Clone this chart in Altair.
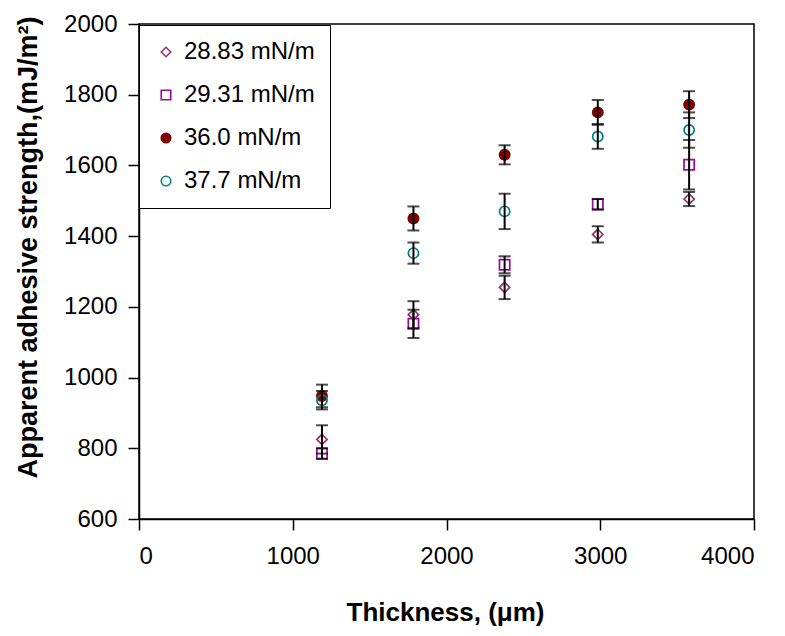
import altair as alt
import pandas as pd

series = ["28.83 mN/m", "29.31 mN/m", "36.0 mN/m", "37.7 mN/m"]
thickness = [1190, 1785, 2378, 2984, 3578]
strength_2883 = [825, 1178, 1255, 1405, 1505]
strength_2931 = [785, 1152, 1319, 1490, 1602]
strength_360 = [948, 1450, 1630, 1750, 1772]
strength_377 = [936, 1352, 1470, 1682, 1700]
err_2883 = [40, 38, 33, 23, 20]
err_2931 = [15, 40, 24, 15, 70]
err_360 = [32, 34, 27, 35, 38]
err_377 = [26, 30, 50, 35, 50]

colors = ["#993366", "#9a0a9a", "#800000", "#008080"]
fills = ["transparent", "transparent", "#800000", "transparent"]
shapes = ["diamond", "square", "circle", "circle"]

rows = []
for s, ys, es in zip(series,
                     [strength_2883, strength_2931, strength_360, strength_377],
                     [err_2883, err_2931, err_360, err_377]):
    for x, y, e in zip(thickness, ys, es):
        rows.append({"series": s, "x": x, "y": y, "lo": y - e, "hi": y + e})
df = pd.DataFrame(rows)

font = "Liberation Sans"
xscale = alt.Scale(domain=[0, 4000], nice=False)
yscale = alt.Scale(domain=[600, 2000], nice=False)

xax = alt.X("x:Q", scale=xscale, axis=alt.Axis(
    title="Thickness, (μm)", values=[0, 1000, 2000, 3000, 4000], format="d",
    labelPadding=14, titleFontSize=26,
    titleX=306, titleY=101, titleBaseline="alphabetic"))
yax = alt.Y("y:Q", scale=yscale, axis=alt.Axis(
    title="Apparent adhesive strength,(mJ/m²)", format="d",
    values=[600, 800, 1000, 1200, 1400, 1600, 1800, 2000],
    titleFontSize=27,
    titleX=-103, titleY=223, titleAngle=-90, titleBaseline="alphabetic",
    titleAlign="center"))

legend = alt.Legend(title=None, orient="none", legendX=0, legendY=1,
                    strokeColor="black", fillColor="white", padding=15,
                    rowPadding=19, labelFontSize=24, labelFont=font,
                    labelColor="black", symbolSize=90, symbolStrokeWidth=1.6,
                    labelOffset=6)

points = alt.Chart(df).mark_point(size=105, strokeWidth=1.7, opacity=1).encode(
    x=xax, y=yax,
    color=alt.Color("series:N", scale=alt.Scale(domain=series, range=colors), legend=legend),
    fill=alt.Fill("series:N", scale=alt.Scale(domain=series, range=fills), legend=legend),
    shape=alt.Shape("series:N", scale=alt.Scale(domain=series, range=shapes), legend=legend),
)

rules = alt.Chart(df).mark_rule(color="black", strokeWidth=2).encode(
    x=alt.X("x:Q", scale=xscale), y=alt.Y("lo:Q", scale=yscale), y2="hi:Q")
caps_lo = alt.Chart(df).mark_tick(color="black", thickness=2, size=12, orient="horizontal").encode(
    x=alt.X("x:Q", scale=xscale), y=alt.Y("lo:Q", scale=yscale))
caps_hi = alt.Chart(df).mark_tick(color="black", thickness=2, size=12, orient="horizontal").encode(
    x=alt.X("x:Q", scale=xscale), y=alt.Y("hi:Q", scale=yscale))

chart = alt.layer(points, rules, caps_lo, caps_hi).properties(
    width=615, height=495,
    autosize=alt.AutoSizeParams(type="none"),
    padding={"left": 131, "top": 16, "right": 22, "bottom": 109},
).configure_view(stroke="black", strokeWidth=1.5).configure_axis(
    grid=False, domainColor="black", domainWidth=1.5, tickColor="black",
    tickWidth=1.5, tickSize=11, labelFont=font, labelFontSize=24,
    labelColor="black", labelPadding=11, titleFont=font,
    titleFontWeight="bold", titleColor="black"
)

chart.save("out.html", embed_options={"renderer": "svg", "actions": False})
